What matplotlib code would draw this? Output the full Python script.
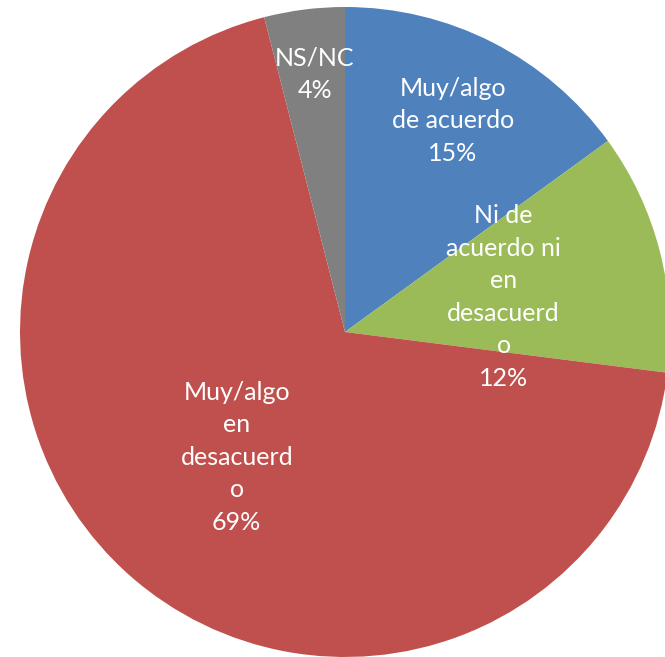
import numpy as np
import matplotlib
matplotlib.use("Agg")
import matplotlib.pyplot as plt

categories = ["Muy/algo\nde acuerdo", "Ni de\nacuerdo ni\nen\ndesacuerd\no",
              "Muy/algo\nen\ndesacuerd\no", "NS/NC"]
values = [15, 12, 69, 4]
colors = ["#4F81BD", "#9BBB59", "#C0504D", "#808080"]
label_dist = [0.73, 0.50, 0.51, 0.80]
label_angle_shift = [0.0, -1.9, 0.6, -0.5]

W, H = 665, 657
fig = plt.figure(figsize=(W / 100, H / 100), dpi=100)
ax = fig.add_axes([0, 0, 1, 1])
R = 325.0
cx, cy = 345.0, 332.0
wedges, _ = ax.pie(values, colors=colors, startangle=90, counterclock=False,
                   radius=1.0, center=(0, 0), wedgeprops=dict(linewidth=0))
ax.set_xlim(-cx / R, (W - cx) / R)
ax.set_ylim(-(H - cy) / R, cy / R)
ax.set_aspect("equal")
ax.axis("off")

for w, cat, v, d, s in zip(wedges, categories, values, label_dist, label_angle_shift):
    ang = np.deg2rad((w.theta1 + w.theta2) / 2 + s)
    x, y = d * np.cos(ang), d * np.sin(ang)
    ax.text(x, y, f"{cat}\n{v}%", ha="center", va="center", color="white",
            fontsize=18, family=["Lato", "DejaVu Sans"], linespacing=1.5)

fig.savefig("out.png", dpi=100)
